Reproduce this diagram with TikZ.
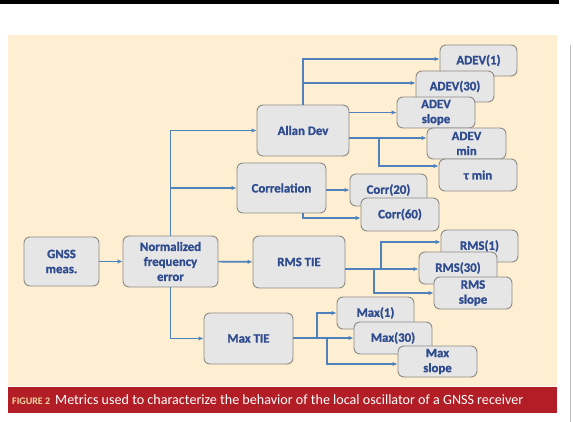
\documentclass[tikz,border=0pt]{standalone}
\usepackage{fontspec}
\setmainfont{Carlito}
\newfontfamily\boxfont[FakeBold=1.2]{Carlito Bold}
\usetikzlibrary{arrows.meta}
\definecolor{cream}{HTML}{FEEFD2}
\definecolor{boxfill}{HTML}{E6E6E6}
\definecolor{boxline}{HTML}{8E8A84}
\definecolor{txtblue}{HTML}{2E4C8F}
\definecolor{arrblue}{HTML}{4F81BD}
\definecolor{capred}{HTML}{B31E26}
\definecolor{capyel}{HTML}{F3D9A4}
\definecolor{rulegray}{HTML}{BDBDBD}
\tikzset{
  blk/.style={draw=boxline, fill=boxfill, line width=0.9pt, rounded corners=6pt,
    inner sep=0pt, align=center, text=txtblue,
    font=\fontsize{12.8}{15}\selectfont\boxfont},
  arr/.style={draw=arrblue, line width=1.6pt, -{Latex[length=5pt,width=4.5pt]}},
  lin/.style={draw=arrblue, line width=1.6pt}
}
\newcommand{\bx}[6]{\node[blk, minimum width=#4, minimum height=#5] (#1) at (#2,#3) {#6};}
\begin{document}
\begin{tikzpicture}[x=1pt,y=-1pt]
\useasboundingbox (0,0) rectangle (573,422);
\fill[white] (0,0) rectangle (573,422);
\fill[black] (0,0) rectangle (559,4);
\fill[cream] (8,35) rectangle (557,386);
\fill[capred] (8,387) rectangle (557,413);
\draw[rulegray, line width=0.8pt] (570,45) -- (570,422);
\node[anchor=base west, inner sep=0pt, text=capyel, font=\fontsize{10}{12}\selectfont\bfseries] (figlab) at (12,404) {FIGURE 2};
\node[anchor=base west, inner sep=0pt, text=white, font=\fontsize{14.1}{16}\selectfont] (captxt) at (55,404) {Metrics used to characterize the behavior of the local oscillator of a GNSS receiver};
% main boxes
\bx{gnss}{61.5}{261.5}{75pt}{49pt}{GNSS\\meas.}
\bx{norm}{170.5}{261.5}{95pt}{51pt}{Normalized\\frequency\\error}
\bx{allan}{303}{130.5}{92pt}{51pt}{Allan Dev}
\bx{corr}{281.5}{188}{89pt}{50pt}{Correlation}
\bx{rms}{299}{262}{92pt}{52pt}{RMS TIE}
\bx{maxtie}{248.5}{338.5}{89pt}{51pt}{Max TIE}
% outputs
\bx{adev1}{478.5}{60.5}{77pt}{31pt}{ADEV(1)}
\bx{adev30}{455}{86.5}{78pt}{31pt}{ADEV(30)}
\bx{adslope}{436}{112.5}{78pt}{31pt}{ADEV\\slope}
\bx{admin}{466.5}{143.5}{79pt}{31pt}{ADEV\\min}
\bx{taumin}{478}{175}{78pt}{32pt}{τ min}
\bx{corr20}{388.5}{190}{77pt}{32pt}{Corr(20)}
\bx{corr60}{400}{214.5}{78pt}{33pt}{Corr(60)}
\bx{rms1}{479.5}{246}{77pt}{32pt}{RMS(1)}
\bx{rms30}{458}{268}{78pt}{32pt}{RMS(30)}
\bx{rmsslope}{473}{293}{78pt}{32pt}{RMS\\slope}
\bx{max1}{375.5}{313}{77pt}{32pt}{Max(1)}
\bx{max30}{393}{338}{78pt}{32pt}{Max(30)}
\bx{maxslope}{437.5}{361.5}{79pt}{31pt}{Max\\slope}
% junction coordinates
\coordinate (ja) at (303,59);
\coordinate (jb) at (303,83);
\coordinate (jc) at (379,138);
\coordinate (jd) at (379,166);
\coordinate (je) at (303,218);
\coordinate (jf) at (381,269);
\coordinate (jg) at (374,269);
\coordinate (jh) at (317,338);
\coordinate (ji) at (327,338);
% connectors
\draw[arr] (gnss) -- (norm);
\draw[arr] (norm) -- (rms);
\draw[arr] (norm.north) |- (allan.west);
\draw[arr] (norm.north) |- (corr.west);
\draw[arr] (norm.south) |- (maxtie.west);
\draw[arr] (allan.north) |- (adev1.west |- ja);
\draw[arr] (jb) -- (adev30.west |- jb);
\draw[arr] (allan.east |- adslope.west) -- (adslope.west);
\draw[arr] (allan.east |- jc) -- (admin.west |- jc);
\draw[arr] (jc) |- (taumin.west |- jd);
\draw[arr] (corr.east |- corr20.west) -- (corr20.west);
\draw[arr] (corr.south -| je) |- (corr60.west |- je);
\draw[arr] (rms.east |- jf) -- (rms30.west |- jf);
\draw[arr] (jf) |- ([yshift=4pt]rms1.west);
\draw[arr] (jg) |- (rmsslope.west);
\draw[arr] (maxtie.east |- jh) -- (max30.west |- jh);
\draw[arr] (jh) |- (max1.west);
\draw[arr] (ji) |- ([yshift=-2.5pt]maxslope.west);
\end{tikzpicture}
\end{document}
